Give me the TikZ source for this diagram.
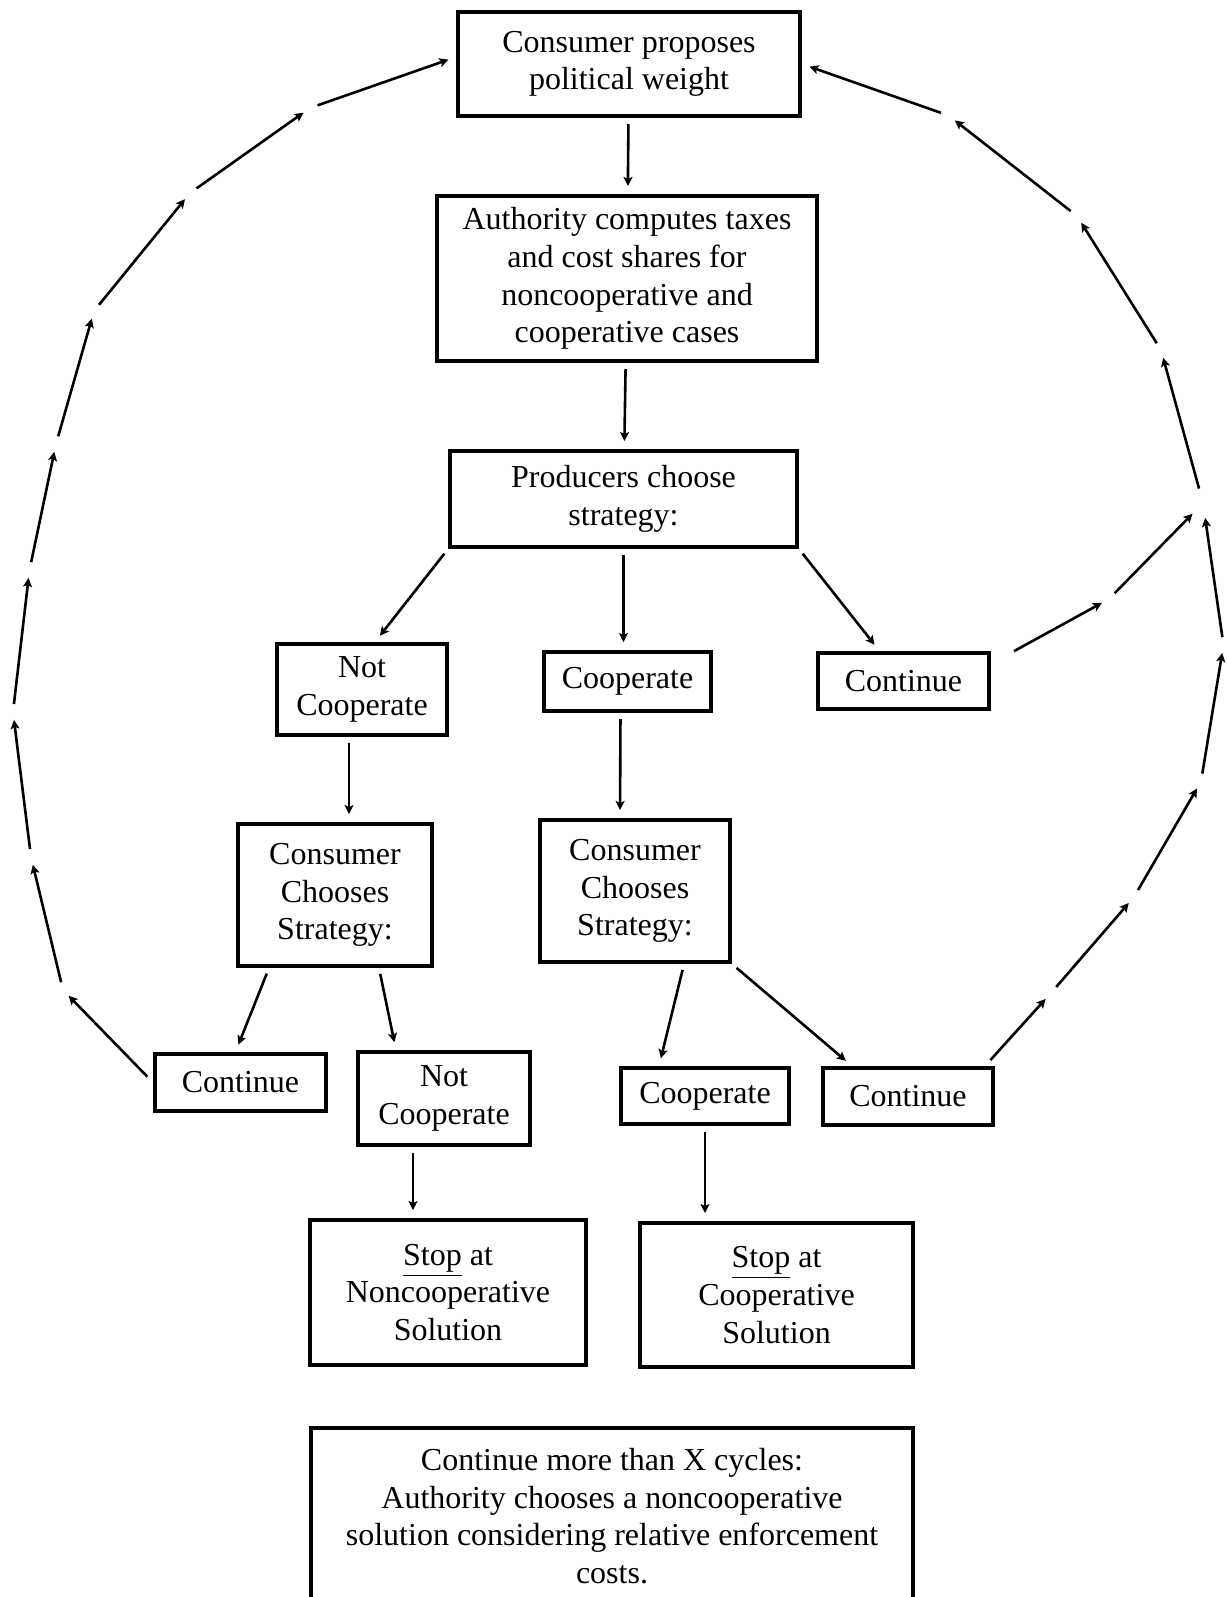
\documentclass[tikz,border=0pt]{standalone}
\usepackage{fontspec}
\setmainfont{Liberation Serif}
\usetikzlibrary{arrows.meta, positioning}

\begin{document}
\begin{tikzpicture}[x=0.5pt,y=-0.5pt,
    stepbox/.style={draw,line width=2pt,font=\fontsize{16}{18.8}\selectfont,
                    align=center,inner sep=2pt},
    arr/.style={-{Stealth[length=4.5pt,width=4.5pt,inset=1pt]},line width=1.3pt,
                shorten <=3pt,shorten >=4pt},
    ring/.style={-{Stealth[length=4.5pt,width=4.5pt,inset=1pt]},line width=1.3pt,
                 shorten <=4pt,shorten >=4pt}
  ]
    \useasboundingbox (0,0) rectangle (1227,1597);
    \node[stepbox,minimum width=171pt,minimum height=52pt] (propose) at (629,64)
      {Consumer proposes\\political weight};
    \node[stepbox,minimum width=190pt,minimum height=82.5pt] (compute) at (627,278.5)
      {Authority computes taxes\\and cost shares for\\noncooperative and\\cooperative cases};
    \node[stepbox,minimum width=173.5pt,minimum height=48pt] (produce) at (623.5,499)
      {Producers choose\\strategy:};
    \node[stepbox,minimum width=85pt,minimum height=45.5pt] (notcoopA) at (362,689.5)
      {Not\\Cooperate};
    \node[stepbox,minimum width=83.5pt,minimum height=29.5pt] (coopA) at (627.5,681.5)
      {Cooperate};
    \node[stepbox,minimum width=85.5pt,minimum height=28pt] (contA) at (903.5,681)
      {Continue};
    \node[stepbox,minimum width=97pt,minimum height=71pt] (chooseL) at (335,895)
      {Consumer\\Chooses\\Strategy:};
    \node[stepbox,minimum width=95pt,minimum height=71pt] (chooseR) at (635,891)
      {Consumer\\Chooses\\Strategy:};
    \node[stepbox,minimum width=85.5pt,minimum height=28.5pt] (contL) at (240.5,1082.5)
      {Continue};
    \node[stepbox,minimum width=86pt,minimum height=46.5pt] (notcoopL) at (444,1098.5)
      {Not\\Cooperate};
    \node[stepbox,minimum width=84pt,minimum height=28pt] (coopR) at (705,1096)
      {Cooperate};
    \node[stepbox,minimum width=85pt,minimum height=28.5pt] (contR) at (908,1096.5)
      {Continue};
    \node[stepbox,minimum width=138pt,minimum height=72.5pt] (stopnon) at (448,1292.5)
      {\underline{Stop} at\\Noncooperative\\Solution};
    \node[stepbox,minimum width=136.5pt,minimum height=72pt] (stopcoop) at (776.5,1295)
      {\underline{Stop} at\\Cooperative\\Solution};
    \node[stepbox,minimum width=301pt,minimum height=88pt] (cycles) at (612,1516)
      {Continue more than X cycles:\\Authority chooses a noncooperative\\solution considering relative enforcement\\costs.};
    % main flow
    \draw[arr] (propose) -- (compute);
    \draw[arr] (compute) -- (produce);
    \draw[arr] (produce.south west) -- ([xshift=6.5pt]notcoopA.north);
    \draw[arr] (produce.south) -- (produce.south |- coopA.north);
    \draw[arr] (produce.south east) -- ([xshift=-12pt]contA.north);
    \draw[arr] ([xshift=-6.5pt]notcoopA.south) -- ([xshift=7pt]chooseL.north);
    \draw[arr] ([xshift=-3.5pt]coopA.south) -- ([xshift=-7.5pt]chooseR.north);
    \draw[arr] ([xshift=-33pt]chooseL.south) -- ([xshift=-2.5pt]contL.north);
    \draw[arr] ([xshift=22pt]chooseL.south) -- ([xshift=-24pt]notcoopL.north);
    \draw[arr] ([xshift=24.5pt]chooseR.south) -- ([xshift=-23pt]coopR.north);
    \draw[arr] (chooseR.south east) -- ([xshift=-28pt]contR.north);
    \draw[arr] ([xshift=-15.5pt]notcoopL.south) -- ([xshift=-17.5pt]stopnon.north);
    \draw[arr] (coopR.south) -- (coopR.south |- stopcoop.north);
    % loop back on the left
    \coordinate (l1) at (63,990);
    \coordinate (l2) at (31,857);
    \coordinate (l3) at (13,712);
    \coordinate (l4) at (29.5,570);
    \coordinate (l5) at (56,444);
    \coordinate (l6) at (94,311);
    \coordinate (l7) at (190,193);
    \coordinate (l8) at (310,108);
    \draw[ring] (contL.west) -- (l1);
    \foreach \a/\b in {l1/l2,l2/l3,l3/l4,l4/l5,l5/l6,l6/l7,l7/l8}
      \draw[ring] (\a) -- (\b);
    \draw[ring] (l8) -- ([yshift=3.5pt]propose.west);
    % loop back on the right
    \coordinate (r1) at (1051,993);
    \coordinate (r2) at (1134,897);
    \coordinate (r3) at (1201,781.5);
    \coordinate (r4) at (1223.5,645);
    \coordinate (c1) at (1109,599);
    \coordinate (join) at (1203,503);
    \coordinate (r6) at (1161,350);
    \coordinate (r7) at (1077,216);
    \coordinate (r8) at (948.5,115.5);
    \draw[ring] ([xshift=-5pt]contR.north east) -- (r1);
    \foreach \a/\b in {r1/r2,r2/r3,r3/r4}
      \draw[ring] (\a) -- (\b);
    \draw[ring,shorten >=7.5pt] (r4) -- (join);
    \draw[ring] ([xshift=8pt,yshift=-2pt]contA.north east) -- (c1);
    \draw[ring,shorten >=7.5pt] (c1) -- (join);
    \draw[ring,shorten <=7.5pt] (join) -- (r6);
    \foreach \a/\b in {r6/r7,r7/r8}
      \draw[ring] (\a) -- (\b);
    \draw[ring] (r8) -- (propose.east);
  \end{tikzpicture}
\end{document}
